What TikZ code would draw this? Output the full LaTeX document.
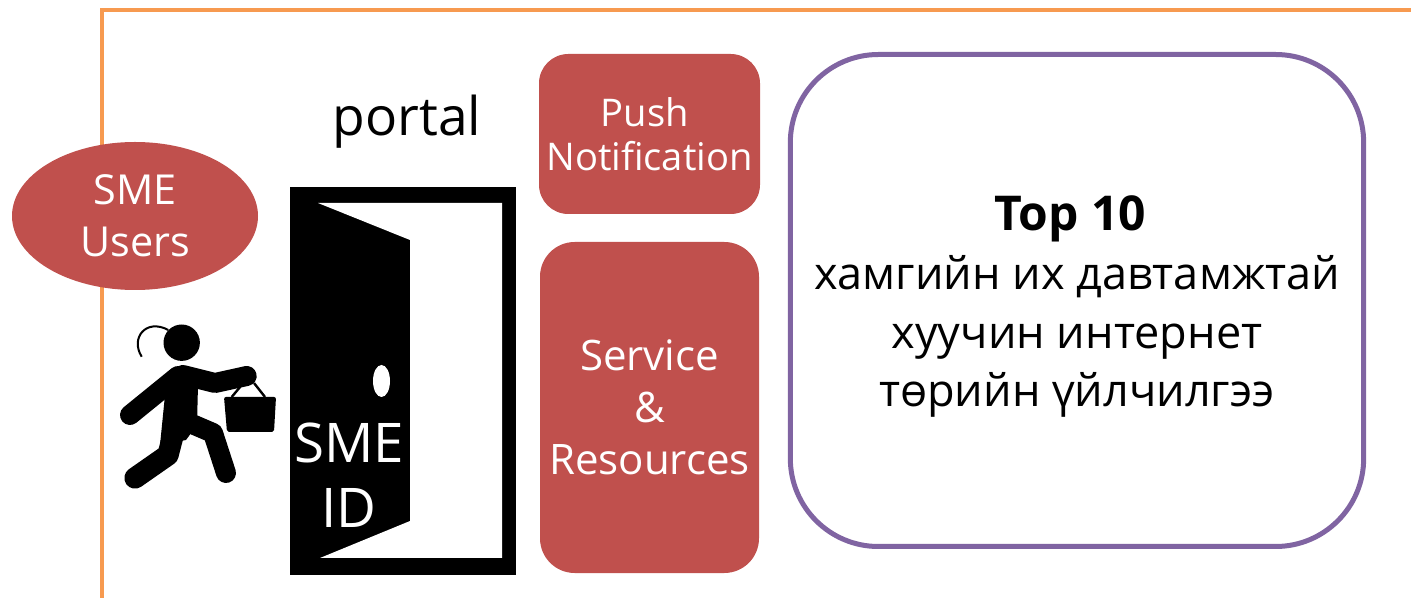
\documentclass[tikz,border=0pt]{standalone}
\usepackage{fontspec}
\usetikzlibrary{shapes.geometric}
\setmainfont{Open Sans}
\definecolor{redfill}{RGB}{192,80,77}
\definecolor{framecol}{RGB}{247,154,80}
\definecolor{purplecol}{RGB}{128,100,162}
\tikzset{every picture/.style={line width=0.75pt}}
\tikzset{
	redbox/.style={fill=redfill,text=white,rectangle,align=center,inner sep=0pt},
	limb/.style={line width=#1,line cap=round,line join=round},
}
\begin{document}
\begin{tikzpicture}[x=0.75pt,y=0.75pt,yscale=-1,xscale=1]
	\useasboundingbox (0,0) rectangle (1411,598);
	
	% Frame
	\draw [color=framecol,line width=3.6pt]  (102,598) -- (102,10) -- (1411,10) ;
	% Ellipse
	\node (users) [redbox,ellipse,minimum width=184.5pt,minimum height=111pt,font=\fontsize{31}{39}\selectfont] at (135,216) {SME\\Users};
	% Title
	\node (portal) [inner sep=0pt,font=\fontsize{40}{48}\selectfont] at (407,122) {portal};
	% Door
	\fill  (290,187) rectangle (516,575) ;
	\fill [white]  (318,203) -- (410,240) -- (410,521) -- (320,558) -- (502,558) -- (502,203) -- cycle ;
	\fill [white]  (381.5,381) ellipse [x radius=8.5,y radius=16] ;
	\node (smeid) [text=white,align=center,inner sep=0pt,font=\fontsize{41}{49}\selectfont] at (349,475) {SME\\ID};
	% Person
	\fill  (181.7,342.7) circle [radius=18.2] ;
	\draw [line width=1.5pt]  (141.7,356.7) .. controls (130,338) and (146,318) .. (168.3,330) ;
	\draw [limb=15pt]  (130,415) -- (178,376) ;
	\draw [limb=15pt]  (183,375) -- (215,383) -- (246.7,376) ;
	\fill  (165,395) -- (180,366) -- (198,385) -- (197,425) -- (186,440) -- (160,445) -- cycle ;
	\draw [limb=16pt]  (175,428) -- (168,455) -- (135,478) ;
	\draw [limb=15pt]  (192,424) -- (213,433) -- (226,473) ;
	% Basket
	\fill [rounded corners=1.5pt]  (224,397) -- (276,397) -- (274,432) -- (227,432) -- cycle ;
	\draw [line width=1.8pt]  (231.7,397) -- (241.7,385) ;
	\draw [line width=1.8pt]  (265,397) -- (254,383) ;
	% Push Notification
	\node (push) [redbox,rounded corners=22pt,minimum width=165.75pt,minimum height=120pt,font=\fontsize{28.6}{33}\selectfont] at (649.5,134) {\mbox{Push\kern7pt}\\Notification};
	% Service and Resources
	\node (service) [redbox,rounded corners=26pt,minimum width=164.25pt,minimum height=248.25pt,font=\fontsize{31.5}{39}\selectfont] at (649.5,407.5) {Service\\\&\\Resources};
	% Top 10 panel
	\node (top) [draw=purplecol,line width=3.75pt,fill=white,rounded corners=66pt,minimum width=430pt,minimum height=369pt,inner sep=0pt] at (1077,300.5) {};
	\node (toptext) [align=center,inner sep=0pt,font=\fontsize{33.8}{44}\selectfont] at (1077,307) {\mbox{\fontsize{36}{44}\selectfont\bfseries Top 10\kern10pt}\\хамгийн их давтамжтай\\хуучин интернет\\төрийн үйлчилгээ};
\end{tikzpicture}
\end{document}
